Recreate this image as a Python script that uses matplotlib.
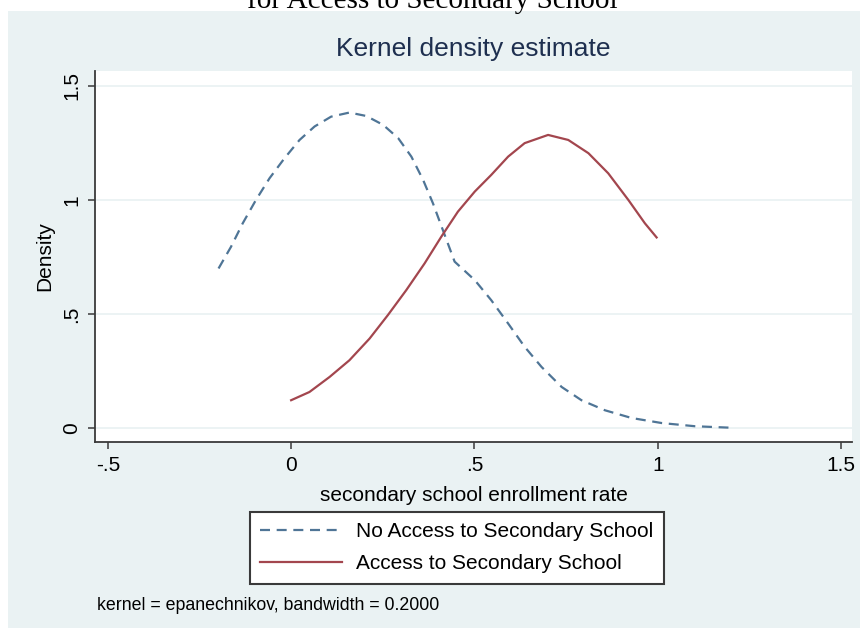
import matplotlib
matplotlib.use("Agg")
import matplotlib.pyplot as plt
from matplotlib.patches import Rectangle

# kernel density curves
no_access_x = [-0.198, -0.164, -0.132, -0.096, -0.059, -0.018, 0.023, 0.064, 0.109, 0.159,
               0.205, 0.251, 0.292, 0.328, 0.36, 0.387, 0.414, 0.446, 0.501, 0.546, 0.592,
               0.637, 0.683, 0.738, 0.792, 0.856, 0.929, 1.011, 1.102, 1.193]
no_access_y = [0.700, 0.795, 0.898, 1.0, 1.095, 1.183, 1.263, 1.322, 1.365, 1.383,
               1.368, 1.329, 1.271, 1.19, 1.088, 0.985, 0.868, 0.730, 0.649, 0.561, 0.459,
               0.357, 0.269, 0.181, 0.123, 0.079, 0.045, 0.023, 0.009, 0.003]

access_x = [0.0, 0.05, 0.105, 0.159, 0.214, 0.264, 0.314, 0.364, 0.41, 0.455, 0.501,
            0.546, 0.592, 0.637, 0.701, 0.756, 0.811, 0.865, 0.92, 0.965, 0.997]
access_y = [0.123, 0.159, 0.225, 0.298, 0.393, 0.496, 0.605, 0.722, 0.84, 0.949, 1.037,
            1.11, 1.19, 1.249, 1.285, 1.263, 1.205, 1.117, 1.0, 0.898, 0.836]

xticks = [-0.5, 0, 0.5, 1, 1.5]
xtick_labels = ["-.5", "0", ".5", "1", "1.5"]
yticks = [0, 0.5, 1, 1.5]
ytick_labels = ["0", ".5", "1", "1.5"]

W, H = 860, 628
bg = "#eaf2f3"
navy = "#4f7596"
maroon = "#a3464e"
axis_col = "#3a3a3a"

plt.rcParams['font.family'] = ['Liberation Sans', 'DejaVu Sans']

fig = plt.figure(figsize=(W / 100, H / 100), dpi=100, facecolor="white")

# graph region background (white strip left and top)
fig.patches.append(Rectangle((8 / W, 0), 1 - 8 / W, 1 - 11 / H, transform=fig.transFigure,
                             facecolor=bg, edgecolor="none", zorder=-10))

# heading from the page above the chart, cut off at the top edge like in the source
fig.text(432 / W, 1 - 8 / H, "for Access to Secondary School", ha="center", va="baseline",
         fontsize=21, family="Liberation Serif", color="black")

ax = fig.add_axes([95 / W, 1 - 442 / H, (852 - 95) / W, (442 - 71) / H])
ax.set_facecolor("white")

ax.plot(no_access_x, no_access_y, color=navy, lw=1.6, dashes=(4.5, 3.0),
        label="No Access to Secondary School")
ax.plot(access_x, access_y, color=maroon, lw=1.6, label="Access to Secondary School")

ax.set_xlim(-0.535, 1.53)
ax.set_ylim(-0.06, 1.565)
ax.set_xticks(xticks)
ax.set_xticklabels(xtick_labels)
ax.set_yticks(yticks)
ax.set_yticklabels(ytick_labels, rotation=90, va="center")
ax.grid(axis="y", color=bg, lw=1.3)
ax.set_axisbelow(True)

for s in ["top", "right"]:
    ax.spines[s].set_visible(False)
for s in ["left", "bottom"]:
    ax.spines[s].set_color(axis_col)
    ax.spines[s].set_linewidth(1.3)
ax.tick_params(direction="out", length=5, width=1.1, color=axis_col, labelsize=15, pad=5)

ax.set_title("Kernel density estimate", fontsize=19, color="#1e2f4f", pad=11)
ax.set_xlabel("secondary school enrollment rate", fontsize=15, labelpad=8)
ax.set_ylabel("Density", fontsize=15, labelpad=6)

leg = ax.legend(loc="upper left", bbox_to_anchor=(250 / W, 1 - 512 / H),
                bbox_transform=fig.transFigure, fontsize=15, frameon=True, fancybox=False,
                framealpha=1, edgecolor=axis_col, handlelength=3.9, handletextpad=0.7,
                borderpad=0.5, labelspacing=0.62, borderaxespad=0)
leg.get_frame().set_linewidth(1.5)

fig.text(97 / W, 1 - 605 / H, "kernel = epanechnikov, bandwidth = 0.2000",
         fontsize=12.8, va="center", ha="left")

plt.savefig("out.png", dpi=100, facecolor=fig.get_facecolor())
